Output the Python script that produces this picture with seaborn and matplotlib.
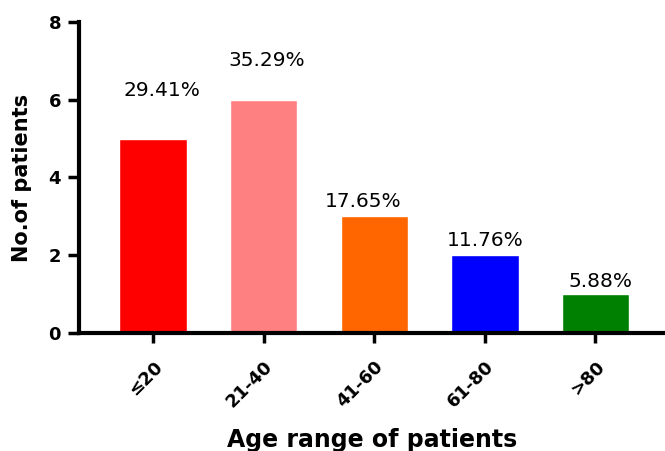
import matplotlib
matplotlib.use("Agg")
import matplotlib.pyplot as plt
import seaborn as sns

# Patients per age range
age_ranges = ["≤20", "21-40", "41-60", "61-80", ">80"]
patients = [5, 6, 3, 2, 1]
bar_colors = ["#FF0000", "#FF8080", "#FF6600", "#0000FF", "#008000"]

# Label placement relative to each bar (x shift, height above bar top)
label_dx = [0.08, 0.03, -0.10, 0.0, 0.05]
label_dy = [1.25, 1.02, 0.37, 0.37, 0.31]

sns.set_theme(style="ticks")
plt.rcParams["font.family"] = ["DejaVu Sans"]
for key in ("text.color", "axes.labelcolor", "xtick.color", "ytick.color"):
    plt.rcParams[key] = "black"

fig = plt.figure(figsize=(6.65, 4.51), dpi=100)
ax = fig.add_axes([0.119, 0.262, 0.881, 0.689])

sns.barplot(x=age_ranges, y=patients, hue=age_ranges, palette=bar_colors,
            width=0.61, legend=False, saturation=1, ax=ax)

total = sum(patients)
for i, v in enumerate(patients):
    pct = f"{v / total * 100:.2f}%"
    ax.text(i + label_dx[i], v + label_dy[i], pct, ha="center", va="center",
            fontsize=14.5, color="black")

ax.set_ylim(0, 8)
ax.set_xlim(-0.67, 4.63)
ax.set_yticks([0, 2, 4, 6, 8])
ax.tick_params(axis="y", labelsize=13, width=2.5, length=8, pad=5)
ax.tick_params(axis="x", labelsize=13, width=2.5, length=7, pad=11)
for lbl in ax.get_yticklabels():
    lbl.set_fontweight("bold")
for lbl in ax.get_xticklabels():
    lbl.set_fontweight("bold")
    lbl.set_rotation(45)
    lbl.set_ha("right")
    lbl.set_va("top")
    lbl.set_rotation_mode("anchor")

sns.despine(ax=ax)
for side in ("left", "bottom"):
    ax.spines[side].set_linewidth(3)
    ax.spines[side].set_color("black")

ax.set_ylabel("No.of patients", fontsize=15, fontweight="bold", labelpad=12)
ax.set_xlabel("Age range of patients", fontsize=17, fontweight="bold", labelpad=12)

fig.savefig("out.png", dpi=100)
